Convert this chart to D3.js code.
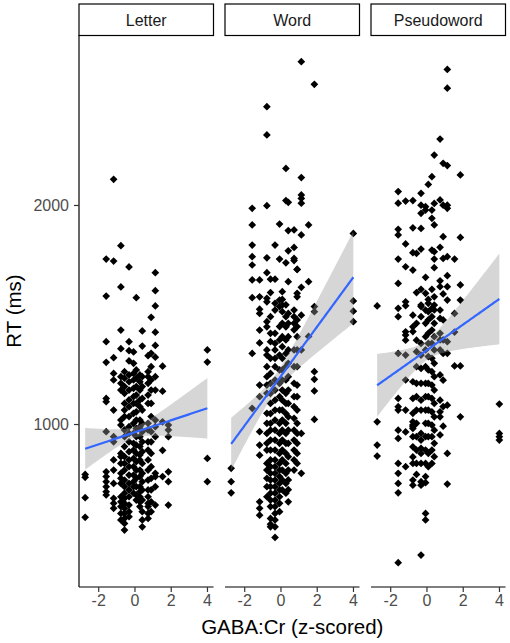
<!DOCTYPE html>
<html>
<head>
<meta charset="utf-8">
<script src="https://cdn.jsdelivr.net/npm/d3@7"></script>
<style>
  body { margin: 0; background: #fff; }
  text { font-family: "Liberation Sans", Arial, sans-serif; }
</style>
</head>
<body>
<script>
// facets
let facets = ["Letter", "Word", "Pseudoword"];

// GABA:Cr z-score of each subject (one column of points per subject)
let gaba = [-2.72, -1.56, -1.15, -0.75, -0.55, -0.3, -0.05, 0.1, 0.3, 0.43, 0.75, 0.92, 1.15, 1.55, 1.87, 4.02];

// RT (ms) per subject, one inner array per gaba value
let letterRT = [
  [770, 757, 664, 574],
  [1753, 1584, 1376, 1282, 1117, 1102, 965, 782, 760, 737, 714, 691, 676],
  [2117, 1744, 1303, 1231, 1201, 1064, 942, 919, 836, 790, 729, 661, 638, 615],
  [1814, 1626, 1429, 1344, 1216, 1186, 1155, 1018, 995, 866, 851, 820, 775, 752, 729, 668, 645, 623, 592, 562],
  [1239, 1209, 1171, 1140, 1094, 1064, 1034, 973, 942, 897, 851, 820, 790, 744, 714, 684, 661, 638, 615, 592, 569, 546, 516],
  [1717, 1376, 1335, 1288, 1224, 1193, 1155, 1110, 1079, 1034, 988, 957, 919, 874, 836, 805, 767, 729, 699, 668, 630, 600, 577],
  [1329, 1277, 1231, 1201, 1163, 1125, 1094, 1049, 1003, 957, 912, 881, 843, 805, 767, 737, 714, 684],
  [1577, 1247, 1209, 1171, 1132, 1094, 1056, 1018, 980, 942, 904, 866, 828, 790, 752, 714, 676, 653],
  [1224, 1193, 1155, 1110, 1079, 1018, 988, 942, 897, 859, 836, 790, 760, 714, 691, 668, 645, 623],
  [1425, 1356, 1216, 1171, 1117, 1064, 1003, 965, 919, 874, 820, 775, 737, 699, 653, 600, 562, 531],
  [1312, 1239, 1216, 1186, 1132, 1094, 1003, 973, 919, 881, 836, 790, 744, 699, 668, 638, 623, 592, 569],
  [1487, 1323, 1262, 1201, 1155, 1094, 1034, 965, 919, 866, 805, 752, 699, 645, 600],
  [1691, 1609, 1539, 1419, 1359, 1305, 1216, 1155, 1018, 988, 942, 775, 760, 714, 630],
  [1264, 1150, 1010, 880, 760],
  [995, 973, 942, 782, 737, 630],
  [1338, 1283, 843, 737]
];

let wordRT = [
  [798, 737, 686],
  [1985, 1909, 1817, 1764, 1726, 1658, 1577, 1322, 1072],
  [1658, 1581, 1524, 1505, 1429, 1370, 1178, 1125, 965, 904, 858, 645, 615, 584],
  [2449, 2320, 1997, 1759, 1691, 1574, 1558, 1467, 1444, 1338, 1315, 1262, 1216, 1178, 1140, 1049, 1003, 957, 912, 881, 820, 790, 752, 714, 668],
  [1661, 1600, 1490, 1414, 1376, 1300, 1231, 1186, 1140, 1094, 1048, 1003, 972, 927, 881, 836, 805, 775, 744, 714, 684, 653, 623, 569, 543, 531],
  [1817, 1661, 1551, 1520, 1414, 1368, 1338, 1300, 1262, 1201, 1155, 1109, 1064, 1018, 972, 927, 881, 836, 805, 775, 744, 714, 684, 653, 623, 592, 562, 531, 482],
  [1913, 1753, 1566, 1536, 1445, 1384, 1315, 1247, 1186, 1125, 1064, 1003, 957, 912, 866, 820, 790, 760, 729, 699, 668, 638, 600],
  [1604, 1569, 1543, 1513, 1460, 1399, 1353, 1300, 1247, 1201, 1155, 1109, 1064, 1018, 972, 927, 881, 836, 790, 745, 699],
  [2167, 2020, 1736, 1544, 1490, 1444, 1384, 1322, 1262, 1201, 1140, 1094, 1048, 1003, 957, 912, 866, 820, 775, 729, 684],
  [2012, 1883, 1791, 1650, 1505, 1460, 1399, 1338, 1277, 1216, 1155, 1094, 1033, 972, 912, 851, 790, 745, 700, 645],
  [1886, 1806, 1756, 1746, 1520, 1490, 1460, 1430, 1338, 1262, 1186, 1125, 1079, 1026, 972, 927, 881, 836, 790],
  [1706, 1706, 1597, 1581, 1475, 1445, 1399, 1338, 1262, 1178, 1125, 1064, 1003, 957, 912, 866, 820],
  [2654, 2125, 2046, 2030, 2008, 1863, 1624, 1497, 1338, 957, 775],
  [1909, 1650, 1400],
  [2551, 1536, 1513, 1239, 1204, 1151, 1021],
  [1870, 1562, 1515, 1467]
];

let pseudoRT = [
  [1539, 1010, 904, 854],
  [2061, 2008, 1889, 1863, 1753, 1642, 1528, 1490, 1322, 1117, 1079, 1064, 972, 934, 820, 775, 729, 686, 367],
  [2018, 1822, 1718, 1558, 1540, 1421, 1406, 1383, 1315, 1201, 1064, 964, 805],
  [2020, 1896, 1782, 1703, 1497, 1444, 1422, 1193, 1117, 1049, 1010, 995, 988, 980, 942, 896, 850, 820, 744, 721],
  [1779, 1600, 1460, 1383, 1330, 1262, 1186, 1125, 1064, 1003, 942, 881, 820, 770],
  [2053, 1999, 1962, 1893, 1799, 1615, 1536, 1543, 1490, 1368, 1315, 1254, 1186, 1109, 1064, 957, 927, 889, 866, 820, 737, 721, 402],
  [1992, 1977, 1670, 1597, 1520, 1460, 1399, 1338, 1262, 1186, 1125, 1064, 1003, 942, 881, 820, 760, 732, 592, 562],
  [2094, 1569, 1551, 1513, 1475, 1414, 1368, 1308, 1247, 1186, 1125, 1064, 1003, 942, 866, 805],
  [2129, 1977, 1939, 1794, 1615, 1528, 1490, 1429, 1368, 1300, 1239, 1178, 1117, 1056, 995, 942, 881, 820],
  [2228, 2007, 1909, 1787, 1753, 1714, 1581, 1543, 1521, 1460, 1399, 1338, 1277, 1216, 1155, 1094, 1033, 972, 912, 851],
  [2301, 2023, 1807, 1654, 1627, 1520, 1482, 1414, 1384, 1338, 1224, 1109, 1056, 1033, 950],
  [2190, 1999, 1855, 1756, 1594, 1475, 1384, 1322, 1200, 1080, 990],
  [2619, 2533, 2180, 1999, 1985, 1764, 1677, 1627, 1566, 1376, 1323, 1086, 866, 726],
  [1753, 1505, 1420, 1265],
  [2137, 1852, 1635, 1566, 1265, 1033],
  [1091, 957, 942, 927]
];

// linear fit (RT at lowest and highest GABA) and 95% band half-widths (left end, narrowest, right end)
let fitX = [-2.72, 4.02];
let letterFit = [887, 1072];
let wordFit = [909, 1670];
let pseudoFit = [1177, 1571];
let letterBand = [95, 25, 138];
let wordBand = [120, 40, 210];
let pseudoBand = [143, 45, 207];

let xTicks = [-2, 0, 2, 4];
let yTicks = [1000, 2000];

let allRT = [letterRT, wordRT, pseudoRT];
let allFit = [letterFit, wordFit, pseudoFit];
let allBand = [letterBand, wordBand, pseudoBand];

let width = 510;
let height = 643;
let panelLeft = [79, 225, 371];
let panelW = 134.5;
let panelTop = 35;
let panelBottom = 587;

let svg = d3.select("body")
            .append("svg")
            .attr("width", width)
            .attr("height", height)

let x = d3.scaleLinear().domain([-3.06, 4.36]).range([0, panelW]);
let y = d3.scaleLinear().domain([256, 2776]).range([panelBottom, panelTop]);

// band points of the smoother, from the fit and its half-widths
function smooth(fit, hw) {
  let xL = fitX[0], xR = fitX[1];
  let r = Math.sqrt((hw[0] * hw[0] - hw[1] * hw[1]) / (hw[2] * hw[2] - hw[1] * hw[1]));
  let xbar = (xL + r * xR) / (1 + r);
  let B = (hw[2] * hw[2] - hw[1] * hw[1]) / ((xR - xbar) * (xR - xbar));
  let slope = (fit[1] - fit[0]) / (xR - xL);
  return d3.range(0, 81).map(function(i) {
    let gx = xL + (xR - xL) * i / 80;
    let fx = fit[0] + slope * (gx - xL);
    let h = Math.sqrt(hw[1] * hw[1] + B * (gx - xbar) * (gx - xbar));
    return { gx: gx, fx: fx, lo: fx - h, hi: fx + h };
  });
}

let diamond = d3.symbol().type(d3.symbolSquare).size(30);

facets.forEach(function(name, k) {
  let g = svg.append("g").attr("transform", "translate(" + panelLeft[k] + ",0)");

  // points
  let pts = [];
  allRT[k].forEach(function(rts, s) {
    rts.forEach(function(rt) { pts.push({ gx: gaba[s], rt: rt }); });
  });
  g.append("g").selectAll("path")
    .data(pts)
    .enter()
    .append("path")
    .attr("d", diamond)
    .attr("transform", function(d) {
      return "translate(" + x(d.gx) + "," + y(d.rt) + ") rotate(45)";
    })
    .attr("fill", "#000");

  // smoother band + line
  let sm = smooth(allFit[k], allBand[k]);
  g.append("path")
    .attr("d", d3.area().x(d => x(d.gx)).y0(d => y(d.lo)).y1(d => y(d.hi))(sm))
    .attr("fill", "#999999")
    .attr("fill-opacity", 0.4);
  g.append("path")
    .attr("d", d3.line().x(d => x(d.gx)).y(d => y(d.fx))(sm))
    .attr("fill", "none")
    .attr("stroke", "#3366FF")
    .attr("stroke-width", 2.2);

  // strip
  g.append("rect")
    .attr("x", 0).attr("y", 4)
    .attr("width", panelW).attr("height", 31.5)
    .attr("fill", "#fff")
    .attr("stroke", "#000")
    .attr("stroke-width", 1.2);
  g.append("text")
    .attr("x", panelW / 2).attr("y", 26.3)
    .attr("text-anchor", "middle")
    .attr("font-size", 16)
    .attr("fill", "#1a1a1a")
    .text(name);

  // bottom axis
  let xa = g.append("g").attr("transform", "translate(0," + panelBottom + ")")
    .call(d3.axisBottom(x).tickValues(xTicks).tickSize(5).tickPadding(3));
  xa.select(".domain").attr("d", "M0,0H" + panelW).attr("stroke", "#000").attr("stroke-width", 1.2);
  xa.selectAll(".tick line").attr("stroke", "#333").attr("stroke-width", 1.2);
  xa.selectAll(".tick text")
    .attr("font-size", 16)
    .attr("font-family", "Liberation Sans, Arial, sans-serif")
    .attr("fill", "#4d4d4d")
    .text(d => d < 0 ? "-" + Math.abs(d) : d);

  // left axis only on the first panel
  if (k === 0) {
    let ya = g.append("g")
      .call(d3.axisLeft(y).tickValues(yTicks).tickSize(5).tickPadding(5).tickFormat(d3.format("d")));
    ya.select(".domain").attr("d", "M0," + panelTop + "V" + panelBottom).attr("stroke", "#000").attr("stroke-width", 1.2);
    ya.selectAll(".tick line").attr("stroke", "#333").attr("stroke-width", 1.2);
    ya.selectAll(".tick text")
      .attr("font-size", 16)
      .attr("font-family", "Liberation Sans, Arial, sans-serif")
      .attr("fill", "#4d4d4d");
  }
});

// axis titles
svg.append("text")
  .attr("x", (panelLeft[0] + panelLeft[2] + panelW) / 2)
  .attr("y", 634)
  .attr("text-anchor", "middle")
  .attr("font-size", 20.5)
  .attr("fill", "#000")
  .text("GABA:Cr (z-scored)");

svg.append("text")
  .attr("transform", "translate(21," + (panelTop + panelBottom) / 2 + ") rotate(-90)")
  .attr("text-anchor", "middle")
  .attr("font-size", 20.5)
  .attr("fill", "#000")
  .text("RT (ms)");
</script>
</body>
</html>
